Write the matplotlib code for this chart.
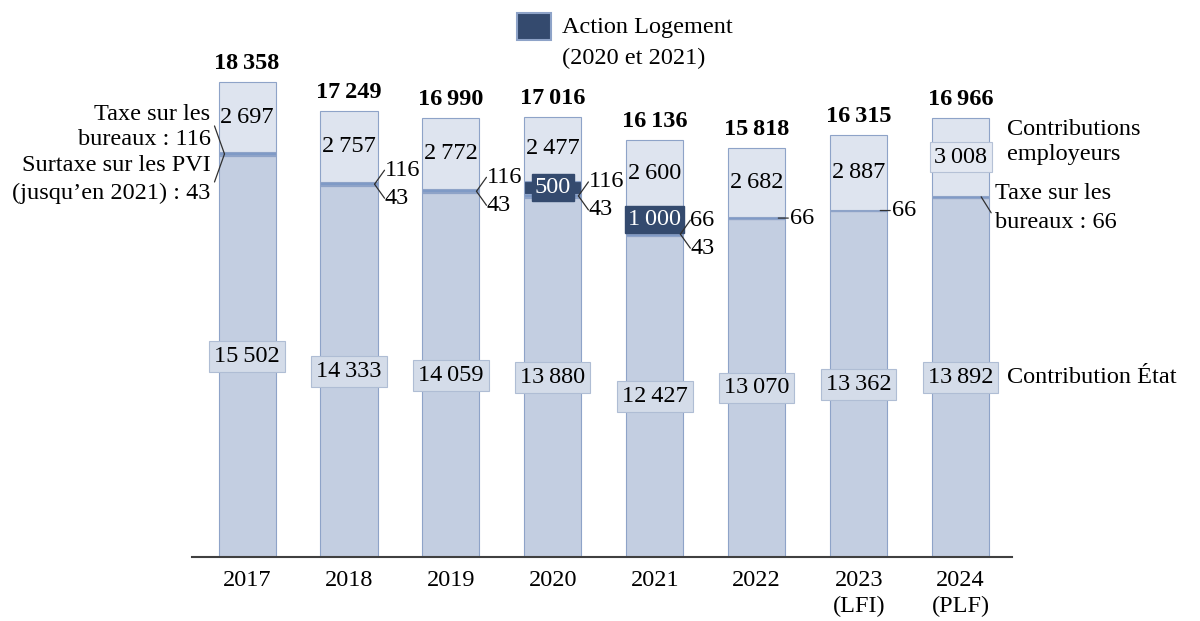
import matplotlib.pyplot as plt
from matplotlib.patches import Rectangle

plt.rcParams['font.family'] = ['Liberation Serif', 'DejaVu Serif']

# données (millions d'euros)
years = ['2017', '2018', '2019', '2020', '2021', '2022', '2023', '2024']
xlabels = ['2017', '2018', '2019', '2020', '2021', '2022', '2023\n(LFI)', '2024\n(PLF)']
etat = [15502, 14333, 14059, 13880, 12427, 13070, 13362, 13892]
surtaxe_pvi = [43, 43, 43, 43, 43, 0, 0, 0]
taxe_bureaux = [116, 116, 116, 116, 66, 66, 66, 66]
action_logement = [0, 0, 0, 500, 1000, 0, 0, 0]
employeurs = [2697, 2757, 2772, 2477, 2600, 2682, 2887, 3008]

c_etat = '#C3CEE1'
c_emp = '#DEE4EF'
c_tax = '#7F9AC6'
c_al = '#344A6E'
c_edge = '#8EA3C8'
fs = 17.5


def fmt(v):
    s = f'{v:,}'.replace(',', '\u2009')
    return s


fig = plt.figure(figsize=(12, 6.21), dpi=100)
ax = fig.add_axes([0.16, 0.103, 0.683, 0.8325])

x = list(range(len(years)))
w = 0.56
bottom = [0] * len(x)
for vals, col in [(etat, c_etat), (surtaxe_pvi, c_tax), (taxe_bureaux, c_tax),
                  (action_logement, c_al), (employeurs, c_emp)]:
    ax.bar(x, vals, w, bottom=bottom, color=col, edgecolor=c_edge, linewidth=0.8)
    bottom = [b + v for b, v in zip(bottom, vals)]
totals = bottom

ax.set_xlim(-0.54, 7.5)
ax.set_ylim(0, 19985)
for s in ['top', 'right', 'left']:
    ax.spines[s].set_visible(False)
ax.spines['bottom'].set_color('#404040')
ax.spines['bottom'].set_linewidth(1.5)
ax.set_yticks([])
ax.set_xticks(x)
ax.set_xticklabels(xlabels, fontsize=fs, va='top', linespacing=1.3)
ax.tick_params(axis='x', length=0, pad=9)

for i in x:
    # total
    ax.annotate(fmt(totals[i]), (i, totals[i]), xytext=(0, 8), textcoords='offset pixels',
                ha='center', va='bottom', fontsize=fs, fontweight='bold')
    # contribution Etat
    ax.text(i, etat[i] / 2, fmt(etat[i]), ha='center', va='center', fontsize=fs,
            bbox=dict(boxstyle='square,pad=0.2', fc='#D4DCE9', ec='#AFBDD4', lw=0.8))
    # contributions employeurs
    top0 = totals[i] - employeurs[i]
    ybox = None
    if i == 7:
        ybox = dict(boxstyle='square,pad=0.18', fc='#E4E9F2', ec='#B5C1D6', lw=0.8)
    ax.text(i, top0 + employeurs[i] / 2, fmt(employeurs[i]), ha='center', va='center',
            fontsize=fs, bbox=ybox)
    # action logement
    if action_logement[i]:
        yal = etat[i] + surtaxe_pvi[i] + taxe_bureaux[i] + action_logement[i] / 2
        ax.text(i, yal, fmt(action_logement[i]), ha='center', va='center', fontsize=fs,
                color='white', bbox=dict(boxstyle='square,pad=0.12', fc=c_al, ec=c_al))

line_kw = dict(arrowstyle='-', color='#303030', lw=0.9, shrinkA=0, shrinkB=0)

# taxes : petites étiquettes
for i in x:
    ytax = etat[i] + (surtaxe_pvi[i] + taxe_bureaux[i]) / 2
    if i == 0:
        pt = (i - w / 2 + 6 / 102, ytax)
        for dy in (28, -28):
            ax.annotate('', xy=pt, xytext=(-10, dy), textcoords='offset pixels',
                        arrowprops=line_kw)
        ax.annotate('Taxe sur les\nbureaux : 116', pt, xytext=(-14, 4), textcoords='offset pixels',
                    ha='right', va='bottom', fontsize=fs, linespacing=1.25)
        ax.annotate('Surtaxe sur les PVI\n(jusqu\u2019en 2021) : 43', pt, xytext=(-14, -1),
                    textcoords='offset pixels', ha='right', va='top', fontsize=fs, linespacing=1.4)
    elif surtaxe_pvi[i]:
        pt = (i + w / 2 - 3 / 102, ytax)
        for dy in (14, -14):
            ax.annotate('', xy=pt, xytext=(10, dy), textcoords='offset pixels',
                        arrowprops=line_kw)
        ax.annotate(str(taxe_bureaux[i]), pt, xytext=(10, 14), textcoords='offset pixels',
                    ha='left', va='center', fontsize=fs)
        ax.annotate(str(surtaxe_pvi[i]), pt, xytext=(10, -14), textcoords='offset pixels',
                    ha='left', va='center', fontsize=fs)
    elif i < 7:
        pt = (i + w / 2 - 7 / 102, ytax)
        ax.annotate('', xy=pt, xytext=(10, 0), textcoords='offset pixels', arrowprops=line_kw)
        ax.annotate(str(taxe_bureaux[i]), pt, xytext=(12, 0), textcoords='offset pixels',
                    ha='left', va='center', fontsize=fs)
    else:
        pt = (i + w / 2 - 8 / 102, ytax)
        ax.annotate('', xy=pt, xytext=(10, -16), textcoords='offset pixels', arrowprops=line_kw)
        ax.annotate('Taxe sur les\nbureaux : 66', pt, xytext=(14, 14), textcoords='offset pixels',
                    ha='left', va='top', fontsize=fs, linespacing=1.5)

# libellés des séries à droite
ax.annotate('Contributions\nemployeurs', (7 + w / 2, totals[7] - employeurs[7] / 2),
            xytext=(18, 15), textcoords='offset pixels', ha='left', va='center',
            fontsize=fs, linespacing=1.25)
ax.annotate('Contribution \u00c9tat', (7 + w / 2, etat[7] / 2), xytext=(18, 0),
            textcoords='offset pixels', ha='left', va='center', fontsize=fs)

# légende Action Logement
fig.patches.append(Rectangle((517 / 1200, 1 - 40 / 621), 34 / 1200, 27 / 621,
                             transform=fig.transFigure, fc=c_al, ec=c_edge, lw=1.5))
fig.text(562 / 1200, 1 - 27 / 621, 'Action Logement', ha='left', va='center', fontsize=fs)
fig.text(562 / 1200, 1 - 58 / 621, '(2020 et 2021)', ha='left', va='center', fontsize=fs)

fig.savefig('out.png', dpi=100)
